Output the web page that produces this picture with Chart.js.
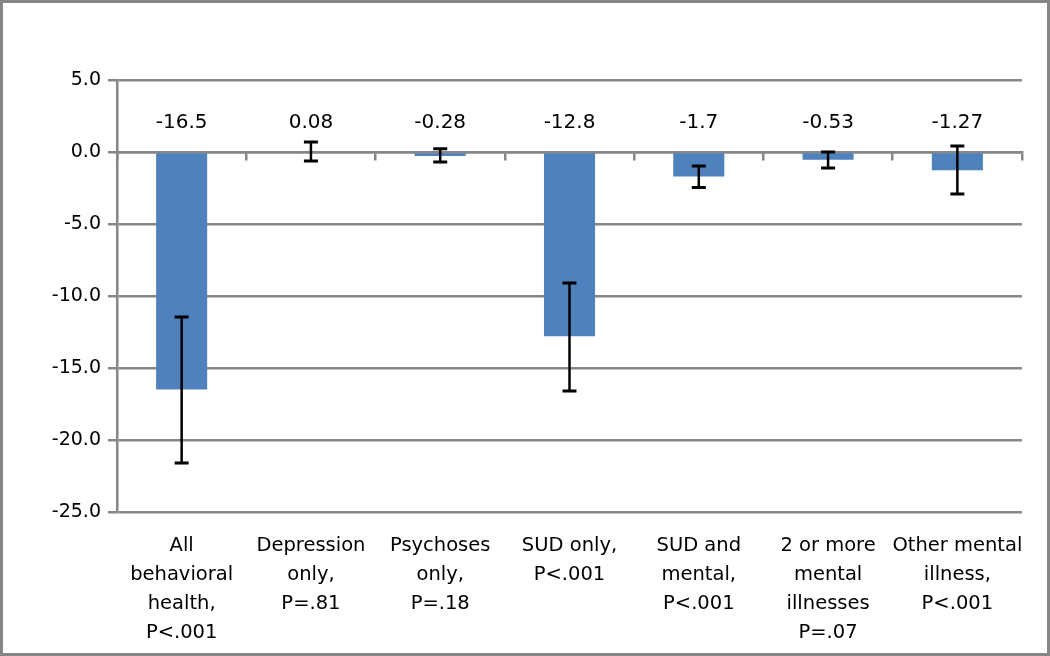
<!DOCTYPE html>
<html>
<head>
<meta charset="utf-8">
<script src="https://cdn.jsdelivr.net/npm/chart.js@4.4.1/dist/chart.umd.min.js"></script>
<style>
  html, body { margin: 0; padding: 0; background: #fff; }
  #frame { width: 1050px; height: 656px; box-sizing: border-box; border: 3px solid #868686; position: relative; }
  #wrap { width: 1044px; height: 650px; position: relative; }
</style>
</head>
<body>
<div id="frame"><div id="wrap"><canvas id="c"></canvas></div></div>
<script>
const categories = [
  ["All", "behavioral", "health,", "P<.001"],
  ["Depression", "only,", "P=.81"],
  ["Psychoses", "only,", "P=.18"],
  ["SUD only,", "P<.001"],
  ["SUD and", "mental,", "P<.001"],
  ["2 or more", "mental", "illnesses", "P=.07"],
  ["Other mental", "illness,", "P<.001"]
];
const values = [-16.5, 0.08, -0.28, -12.8, -1.7, -0.53, -1.27];
const valueLabels = ["-16.5", "0.08", "-0.28", "-12.8", "-1.7", "-0.53", "-1.27"];
const errHigh = [-11.45, 0.70, 0.23, -9.1, -0.97, 0.0, 0.42];
const errLow = [-21.6, -0.63, -0.70, -16.6, -2.46, -1.11, -2.92];
const yTicks = [5, 0, -5, -10, -15, -20, -25];

const FONT = "'DejaVu Sans', sans-serif";
const GRID = '#868686';

const errorBars = {
  id: 'errorBars',
  afterDatasetsDraw(chart) {
    const ctx = chart.ctx;
    const meta = chart.getDatasetMeta(0);
    const y = chart.scales.y;
    ctx.save();
    ctx.strokeStyle = '#000';
    meta.data.forEach((bar, i) => {
      const x = bar.x;
      const yh = y.getPixelForValue(errHigh[i]);
      const yl = y.getPixelForValue(errLow[i]);
      ctx.lineWidth = 2.5;
      ctx.beginPath();
      ctx.moveTo(x, yh); ctx.lineTo(x, yl);
      ctx.stroke();
      ctx.lineWidth = 3;
      ctx.beginPath();
      ctx.moveTo(x - 7, yh); ctx.lineTo(x + 7, yh);
      ctx.moveTo(x - 7, yl); ctx.lineTo(x + 7, yl);
      ctx.stroke();
    });
    ctx.restore();
  }
};

const valueLabelPlugin = {
  id: 'valueLabels',
  afterDatasetsDraw(chart) {
    const ctx = chart.ctx;
    const meta = chart.getDatasetMeta(0);
    const y0 = chart.scales.y.getPixelForValue(0);
    ctx.save();
    ctx.fillStyle = '#000';
    ctx.font = "20px " + FONT;
    ctx.textAlign = 'center';
    ctx.textBaseline = 'middle';
    meta.data.forEach((bar, i) => {
      ctx.fillText(valueLabels[i], bar.x, y0 - 29);
    });
    ctx.restore();
  }
};

new Chart(document.getElementById('c'), {
  type: 'bar',
  data: {
    labels: categories,
    datasets: [{
      data: values,
      backgroundColor: '#4F81BD',
      borderWidth: 0,
      barPercentage: 0.395,
      categoryPercentage: 1.0
    }]
  },
  options: {
    responsive: true,
    maintainAspectRatio: false,
    animation: false,
    events: [],
    layout: { padding: { left: 0, top: 77, right: 25, bottom: 0 } },
    plugins: { legend: { display: false }, tooltip: { enabled: false } },
    scales: {
      y: {
        min: -25, max: 5,
        afterBuildTicks(scale) { scale.ticks = yTicks.map(v => ({ value: v })); },
        afterFit(scale) { scale.width = 114; },
        ticks: {
          color: '#000',
          font: { family: FONT, size: 19 },
          padding: 7,
          callback: v => Number(v).toFixed(1)
        },
        grid: { color: GRID, lineWidth: 2.5, drawTicks: true, tickLength: 9 },
        border: { display: true, color: GRID, width: 2.5 }
      },
      x: {
        position: 'bottom',
        afterFit(scale) { scale.height = 141; },
        offset: true,
        ticks: {
          color: '#000',
          font: { family: FONT, size: 19.5, lineHeight: 1.5 },
          padding: 19,
          maxRotation: 0,
          minRotation: 0,
          autoSkip: false
        },
        grid: { display: false, drawTicks: false },
        border: { display: false }
      },
      x2: {
        type: 'category',
        axis: 'x',
        position: { y: 0 },
        offset: true,
        ticks: { display: false },
        grid: { offset: true, drawOnChartArea: false, drawTicks: true, tickLength: 7, color: GRID, lineWidth: 2.5 },
        border: { display: true, color: GRID, width: 2.5 }
      }
    }
  },
  plugins: [errorBars, valueLabelPlugin]
});
</script>
</body>
</html>
